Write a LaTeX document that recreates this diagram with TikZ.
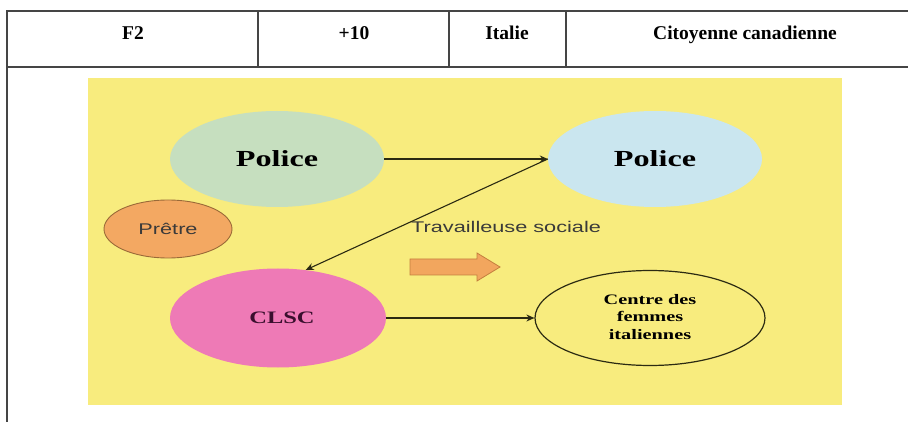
\documentclass[tikz,border=0pt]{standalone}
\usepackage{fontspec}
\usepackage{graphicx}
\setmainfont{Liberation Serif}
\newfontfamily\arialfont{Liberation Sans}
\usetikzlibrary{shapes.geometric,arrows.meta}

\definecolor{tablerule}{HTML}{454545}
\definecolor{canvas}{HTML}{F8EC7E}
\definecolor{policegreen}{HTML}{C6DFBF}
\definecolor{policeblue}{HTML}{CAE6EF}
\definecolor{pretreorange}{HTML}{F3A862}
\definecolor{pretreedge}{HTML}{9A6A38}
\definecolor{clscpink}{HTML}{EE7AB6}
\definecolor{clsctext}{HTML}{3A0F2E}
\definecolor{linkline}{HTML}{2B2A12}
\definecolor{blockarrow}{HTML}{F2A65E}
\definecolor{blockedge}{HTML}{C47F3E}
\definecolor{graytext}{HTML}{3A3A3A}

\tikzset{
  headcell/.style={font=\bfseries\fontsize{19.5}{21}\selectfont, anchor=base, inner sep=0pt},
  bubble/.style={ellipse, inner sep=0pt, align=center},
  link/.style={draw=linkline, line width=1.1pt, -{Stealth[length=8pt,width=7pt]}},
}

% horizontally widened text, as in the diagram panel
\newcommand{\widetext}[1]{\scalebox{1.4}[1]{#1}}

\begin{document}
\begin{tikzpicture}[x=1pt,y=-1pt]
\useasboundingbox (0,0) rectangle (908,422);
\fill[white] (0,0) rectangle (908,422);

% table frame and header row
\draw[tablerule, line width=1.6pt] (7,422) -- (7,11) -- (908,11);
\draw[tablerule, line width=1.6pt] (7,67) -- (908,67);
\draw[tablerule, line width=1.2pt] (258,11) -- (258,67);
\draw[tablerule, line width=1.2pt] (449,11) -- (449,67);
\draw[tablerule, line width=1.2pt] (566,11) -- (566,67);

\node[headcell] (hF) at (133,40) {F2};
\node[headcell] (hAge) at (354,40) {+10};
\node[headcell] (hPays) at (507,40) {Italie};
\node[headcell] (hStatut) at (745,40) {Citoyenne canadienne};

% diagram panel
\fill[canvas] (88,78) rectangle (842,405);

\node[bubble, fill=policegreen, minimum width=214pt, minimum height=96pt]
  (policeA) at (277,159) {\widetext{\bfseries\fontsize{23}{25}\selectfont Police}};
\node[bubble, fill=policeblue, minimum width=214pt, minimum height=96pt]
  (policeB) at (655,159) {\widetext{\bfseries\fontsize{23}{25}\selectfont Police}};
\node[bubble, fill=pretreorange, draw=pretreedge, line width=0.9pt,
      minimum width=128pt, minimum height=58pt]
  (pretre) at (168,229) {\widetext{\arialfont\color{graytext}\fontsize{15.5}{17}\selectfont Prêtre}};
\node[bubble, fill=clscpink, minimum width=216pt, minimum height=99pt]
  (clsc) at (278,318) {\hspace*{8pt}\widetext{\bfseries\color{clsctext}\fontsize{17.5}{19}\selectfont CLSC}};
\node[bubble, draw=linkline, line width=1.2pt, minimum width=230pt, minimum height=95pt]
  (centre) at (650,318) {\widetext{\bfseries\fontsize{14.5}{17.5}\selectfont
     \begin{tabular}{@{}c@{}}Centre des\\ femmes\\ italiennes\end{tabular}}};

\node[anchor=base west, inner sep=0pt] (travail) at (411,233)
  {\widetext{\arialfont\color{graytext}\fontsize{15.5}{17}\selectfont Travailleuse sociale}};

% block arrow under the label
\draw[fill=blockarrow, draw=blockedge, line width=0.8pt]
  (410,259) -- (477,259) -- (477,253) -- (500,267) -- (477,281) -- (477,275) -- (410,275) -- cycle;

% connectors
\draw[link] (policeA.east) -- (policeB.west);
\draw[link] (policeB.west) -- (clsc.60);
\draw[link] (clsc.east) -- (centre.west);
\end{tikzpicture}
\end{document}
